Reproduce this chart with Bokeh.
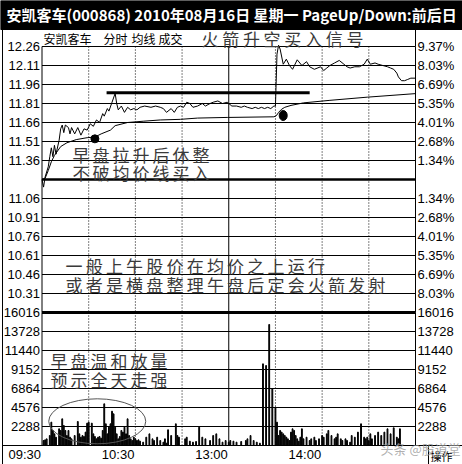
from bokeh.plotting import figure
from bokeh.models import Range1d
from bokeh.core.properties import value
from bokeh.embed import file_html
from bokeh.resources import INLINE

# ---------------- data ----------------
title_text = "安凯客车(000868) 2010年08月16日 星期一 PageUp/Down:前后日"

price_levels = [12.26, 12.11, 11.96, 11.81, 11.66, 11.51, 11.36, 11.21,
                11.06, 10.91, 10.76, 10.61, 10.46, 10.31, 10.16]
price_labels = ["12.26", "12.11", "11.96", "11.81", "11.66", "11.51", "11.36", "",
                "11.06", "10.91", "10.76", "10.61", "10.46", "10.31", ""]
pct_labels = ["9.37%", "8.03%", "6.69%", "5.35%", "4.01%", "2.68%", "1.34%", "",
              "1.34%", "2.68%", "4.01%", "5.35%", "6.69%", "8.03%", ""]
base_price = 11.21

vol_levels = [16016, 13728, 11440, 9152, 6864, 4576, 2288, 0]
vol_labels = ["16016", "13728", "11440", "9152", "6864", "4576", "2288", ""]

time_ticks = [0, 60, 120, 180]
time_labels = ["09:30", "10:30", "13:00", "14:00"]
dotted_minutes = [30, 60, 90, 150, 180, 210]
solid_minutes = [0, 120, 240]

# minute index (0 = 09:30, 120 = 11:30/13:00, 240 = 15:00) and last price
price_min = [0, 1, 2, 4, 5, 6, 7, 8, 9, 11, 12, 13, 14, 15, 17, 18, 19, 21, 23, 25,
             27, 29, 31, 33, 35, 37, 39, 40, 42, 43, 45, 47, 48, 49, 51, 53, 55, 57,
             59, 61, 63, 66, 70, 73, 76, 78, 80, 83, 85, 87, 89, 91, 93, 95, 97, 100,
             103, 105, 108, 110, 113, 116, 119,
             120, 122, 125, 128, 130, 132, 135, 137, 139, 141, 143, 145, 147, 149,
             150, 151, 152, 153, 155, 157, 159, 161, 164, 167, 170, 172, 175, 179,
             181, 183, 185, 188, 191, 194, 196, 198, 201, 204, 207, 209, 211, 214,
             216, 219, 222, 224, 226, 228, 229, 231, 233, 235, 237, 240]
price_val = [11.21, 11.15, 11.23, 11.31, 11.39, 11.46, 11.39, 11.48, 11.41, 11.52,
             11.61, 11.64, 11.58, 11.64, 11.62, 11.57, 11.62, 11.57, 11.62, 11.56,
             11.61, 11.60, 11.65, 11.63, 11.68, 11.66, 11.73, 11.71, 11.77, 11.75,
             11.82, 11.89, 11.81, 11.76, 11.79, 11.74, 11.78, 11.76, 11.77, 11.76,
             11.78, 11.79, 11.78, 11.79, 11.78, 11.77, 11.74, 11.77, 11.74, 11.78,
             11.79, 11.78, 11.82, 11.81, 11.78, 11.79, 11.81, 11.79, 11.81, 11.82,
             11.83, 11.81, 11.82,
             11.81, 11.79, 11.79, 11.78, 11.79, 11.78, 11.77, 11.78, 11.77, 11.78,
             11.77, 11.78, 11.77, 11.79,
             11.79, 12.20, 12.27, 12.24, 12.12, 12.16, 12.11, 12.08, 12.155, 12.11,
             12.14, 12.10, 12.08, 12.10, 12.07, 12.09, 12.11, 12.13, 12.15, 12.12,
             12.10, 12.09, 12.10, 12.10, 12.12, 12.16, 12.12, 12.13, 12.12, 12.11,
             12.10, 12.09, 12.08, 12.05, 12.02, 11.99, 11.99, 12.00, 12.01, 12.01]

# average price line
avg_min = [0, 2, 4, 6, 8, 12, 16, 22, 29, 34, 38, 44, 47, 55, 65, 76, 89, 100, 119,
           120, 149, 150, 151, 152, 154, 156, 160, 168, 185, 209, 240]
avg_val = [11.21, 11.22, 11.28, 11.35, 11.40, 11.47, 11.50, 11.525, 11.54, 11.545,
           11.57, 11.60, 11.635, 11.66, 11.67, 11.68, 11.685, 11.695, 11.70,
           11.70, 11.705, 11.71, 11.72, 11.74, 11.765, 11.78, 11.795, 11.815, 11.835,
           11.86, 11.888]

# per-minute volume (lots)
vol_min = [1, 2, 3, 5, 6, 7, 8, 9, 11, 12, 13, 14, 15, 16, 17, 18, 19, 21, 23, 24,
           25, 26, 27, 28, 29, 30, 32, 33, 34, 35, 36, 37, 38, 39, 40, 41, 42, 43,
           44, 45, 46, 47, 48, 49, 50, 51, 52, 53, 54, 55, 56, 57, 58, 59, 60, 61,
           62, 63, 65, 67, 69, 71, 72, 74, 76, 78, 79, 80, 81, 83, 86, 87, 88, 92,
           93, 95, 97, 99, 101, 103, 105, 108, 110, 112, 114, 116, 118, 120,
           121, 123, 125, 128, 131, 132, 134, 136, 138, 140, 142, 144, 146, 148,
           150, 151, 152, 153, 154, 155, 156, 157, 158, 159, 160, 161, 162, 163,
           164, 165, 166, 167, 168, 170, 172, 173, 175, 176, 178, 180, 181, 183,
           184, 186, 188, 189, 190, 192, 193, 195, 196, 198, 199, 201, 203, 205,
           207, 208, 209, 210, 211, 212, 214, 216, 218, 220, 222, 224, 226, 228,
           229, 230, 231, 233, 235, 237]
vol_val = [600, 680, 800, 1200, 2810, 1810, 1400, 1000, 2010, 1810, 3210, 2410,
           1810, 1200, 1810, 1000, 800, 1200, 2890, 1400, 1000, 1200, 1080, 1610,
           2690, 2810, 2690, 1400, 1080, 800, 1000, 1080, 880, 1810, 5020, 2610,
           1400, 2210, 2610, 4130, 3810, 2210, 1400, 800, 1080, 1810, 1610, 2210,
           1400, 3210, 1200, 800, 600, 1000, 800, 600, 680, 520, 400, 1000, 1400,
           800, 600, 1000, 600, 400, 800, 280, 1890, 1200, 2610, 1200, 1000, 800,
           1000, 520, 400, 480, 2210, 1000, 800, 600, 1200, 1400,
           800, 400, 600, 400, 600, 520, 400, 480, 600, 800, 1200, 600, 400, 280,
           9830, 9630, 14570, 6820, 4610, 2810, 1200, 1810, 1610, 1400, 1200,
           1000, 800, 600, 1610, 2010, 1810, 1200, 800, 520, 1000, 2010, 800, 1000,
           600, 800, 1000, 600, 800, 1200, 1000, 1400, 1810, 1200, 800, 1000,
           1400, 800, 600, 800, 600, 400, 1200, 1000, 1610, 2610, 1000, 800, 1000,
           600, 1400, 800, 1200, 1610, 1200, 1610, 2010, 1400, 2130, 1000, 800, 2010]

# marks drawn on the intraday chart
dot_min = [34, 155]
dot_price = [11.531, 11.715]
resist_from, resist_to, resist_price = 41.5, 172, 11.894
circle_min, circle_vol = 35.5, 2914

notes_top = ["早盘拉升后休整", "不破均价线买入"]
notes_mid = ["一般上午股价在均价之上运行", "或者是横盘整理午盘后定会火箭发射"]
notes_vol = ["早盘温和放量", "预示全天走强"]
headline = "火箭升空买入信号"

# ---------------- layout ----------------
W, H = 462, 464
LEFT, RIGHT = 41.5, 415.0          # chart frame, px
P_TOP, ROW = 46.0, 19.0            # top grid line and grid spacing, px
V_TOP = P_TOP + 14 * ROW           # price/volume separator
V_BOT = V_TOP + 7 * ROW            # volume baseline

ppm = (RIGHT - LEFT) / 240.0
ppp = ROW / 0.15
ppv = ROW / 2288.0

p = figure(width=W, height=H, title=None, toolbar_location=None,
           output_backend="svg", x_axis_location=None, y_axis_location=None,
           x_range=Range1d(0, W), y_range=Range1d(H, 0), min_border=0)
p.outline_line_color = None
p.grid.visible = False
p.background_fill_color = "white"
p.border_fill_color = "white"
p.extra_x_ranges = {"t": Range1d(-LEFT / ppm, (W - LEFT) / ppm)}
p.extra_y_ranges = {
    "price": Range1d(price_levels[0] - (H - P_TOP) / ppp, price_levels[0] + P_TOP / ppp),
    "vol": Range1d(vol_levels[0] - (H - V_TOP) / ppv, vol_levels[0] + V_TOP / ppv),
}

TP = dict(x_range_name="t", y_range_name="price")
TV = dict(x_range_name="t", y_range_name="vol")
NUM_FONT = value("Liberation Sans")
CJK = value("Noto Sans CJK SC")

# title bar
p.quad(left=0, right=W, top=0, bottom=29, color="black")
p.text(x=[6], y=[14], text=[title_text], text_font=CJK, text_font_style="bold",
       text_font_size="15px", text_color="white", text_baseline="middle")

# outer frame line on the left
p.segment(x0=[2], y0=[29], x1=[2], y1=[H], color="black", line_width=1)

# horizontal grid, price panel
thin_p = [lv for lv in price_levels if lv not in (base_price, price_levels[-1])]
p.segment(x0=0, x1=240, y0=thin_p, y1=thin_p, color="black", line_width=1, **TP)
p.segment(x0=[0], x1=[240], y0=[base_price], y1=[base_price], color="black",
          line_width=2.5, **TP)
p.segment(x0=[0], x1=[240], y0=[price_levels[-1]], y1=[price_levels[-1]],
          color="black", line_width=3, **TP)
# horizontal grid, volume panel
p.segment(x0=0, x1=240, y0=vol_levels[1:-1], y1=vol_levels[1:-1], color="black",
          line_width=1, **TV)
p.segment(x0=[2], x1=[W], y0=[0], y1=[0], color="black", line_width=1,
          y_range_name="vol")

# vertical time lines
for rng, top, bot in (("price", price_levels[0], price_levels[-1]),
                      ("vol", vol_levels[0], vol_levels[-1])):
    p.segment(x0=dotted_minutes, x1=dotted_minutes, y0=top, y1=bot, color="black",
              line_width=1, line_dash="1 2", x_range_name="t", y_range_name=rng)
    p.segment(x0=solid_minutes, x1=solid_minutes, y0=top, y1=bot, color="black",
              line_width=1, x_range_name="t", y_range_name=rng)
p.segment(x0=[240], x1=[240], y0=[29], y1=[P_TOP], color="black", line_width=1,
          x_range_name="t")

# price and average lines
p.line(price_min, price_val, color="black", line_width=1, **TP)
p.line(avg_min, avg_val, color="black", line_width=1, **TP)
p.segment(x0=[resist_from], x1=[resist_to], y0=[resist_price], y1=[resist_price],
          color="black", line_width=3, **TP)
p.ellipse(x=dot_min, y=dot_price, width=[8, 8], height=[8, 10], width_units="screen",
          height_units="screen", color="black", **TP)

# volume bars
p.vbar(x=vol_min, top=vol_val, bottom=0, width=0.55, color="black", **TV)
p.ellipse(x=[circle_min], y=[circle_vol], width=[97], height=[45], width_units="screen",
          height_units="screen", fill_color=None, line_color="#555555", line_width=1, **TV)

# axis labels
lp = [(lv, lb) for lv, lb in zip(price_levels, price_labels) if lb]
p.text(x=[LEFT - 2] * len(lp), y=[a for a, _ in lp], text=[b for _, b in lp],
       text_font=NUM_FONT, text_font_size="13px", text_align="right",
       text_baseline="middle", text_color="black", y_range_name="price")
rp = [(lv, lb) for lv, lb in zip(price_levels, pct_labels) if lb]
p.text(x=[RIGHT + 2] * len(rp), y=[a for a, _ in rp], text=[b for _, b in rp],
       text_font=NUM_FONT, text_font_size="13px", text_align="left",
       text_baseline="middle", text_color="black", y_range_name="price")
vl = [(lv, lb) for lv, lb in zip(vol_levels, vol_labels) if lb]
p.text(x=[LEFT - 2] * len(vl), y=[a for a, _ in vl], text=[b for _, b in vl],
       text_font=NUM_FONT, text_font_size="13px", text_align="right",
       text_baseline="middle", text_color="black", y_range_name="vol")
p.text(x=[RIGHT + 2] * len(vl), y=[a for a, _ in vl], text=[b for _, b in vl],
       text_font=NUM_FONT, text_font_size="13px", text_align="left",
       text_baseline="middle", text_color="black", y_range_name="vol")
p.text(x=time_ticks, y=[V_BOT + 9] * len(time_ticks), text=time_labels,
       text_font=NUM_FONT, text_font_size="13px", text_align="right", x_offset=-1,
       text_baseline="middle", text_color="black", x_range_name="t")

# header row
for word, x0 in (("安凯客车", 43), ("分时", 103), ("均线", 131), ("成交", 158)):
    p.text(x=[x0], y=[37.5], text=[word], text_font=CJK, text_font_size="12px",
           text_baseline="middle", text_color="black")


def spaced(s, x0, y, step, size, color="#3a3a3a"):
    xs = [x0 + i * step for i in range(len(s))]
    p.text(x=xs, y=[y] * len(s), text=list(s), text_font=CJK, text_font_size=size,
           text_baseline="middle", text_color=color)


spaced(headline, 201, 38, 20.7, "17px")
spaced(notes_top[0], 72, 154, 20.0, "17px")
spaced(notes_top[1], 72, 172, 20.0, "17px")
spaced(notes_mid[0], 65, 265, 20.2, "17px")
spaced(notes_mid[1], 65, 284, 20.2, "17px")
spaced(notes_vol[0], 50, 360, 20.0, "17px")
spaced(notes_vol[1], 50, 379, 20.0, "17px")

# bottom-right corner box and watermark
p.segment(x0=[428], x1=[428], y0=[V_BOT], y1=[H], color="black", line_width=1)
p.text(x=[430], y=[455], text=["操作"], text_font=CJK, text_font_size="11px",
       text_baseline="middle", text_color="black")
p.text(x=[380], y=[448], text=["头条 @股道堂"], text_font=CJK, text_font_size="13px",
       text_baseline="middle", text_color="#9a9a9a", text_alpha=0.8)

open("out.html", "w").write(file_html(p, INLINE))
